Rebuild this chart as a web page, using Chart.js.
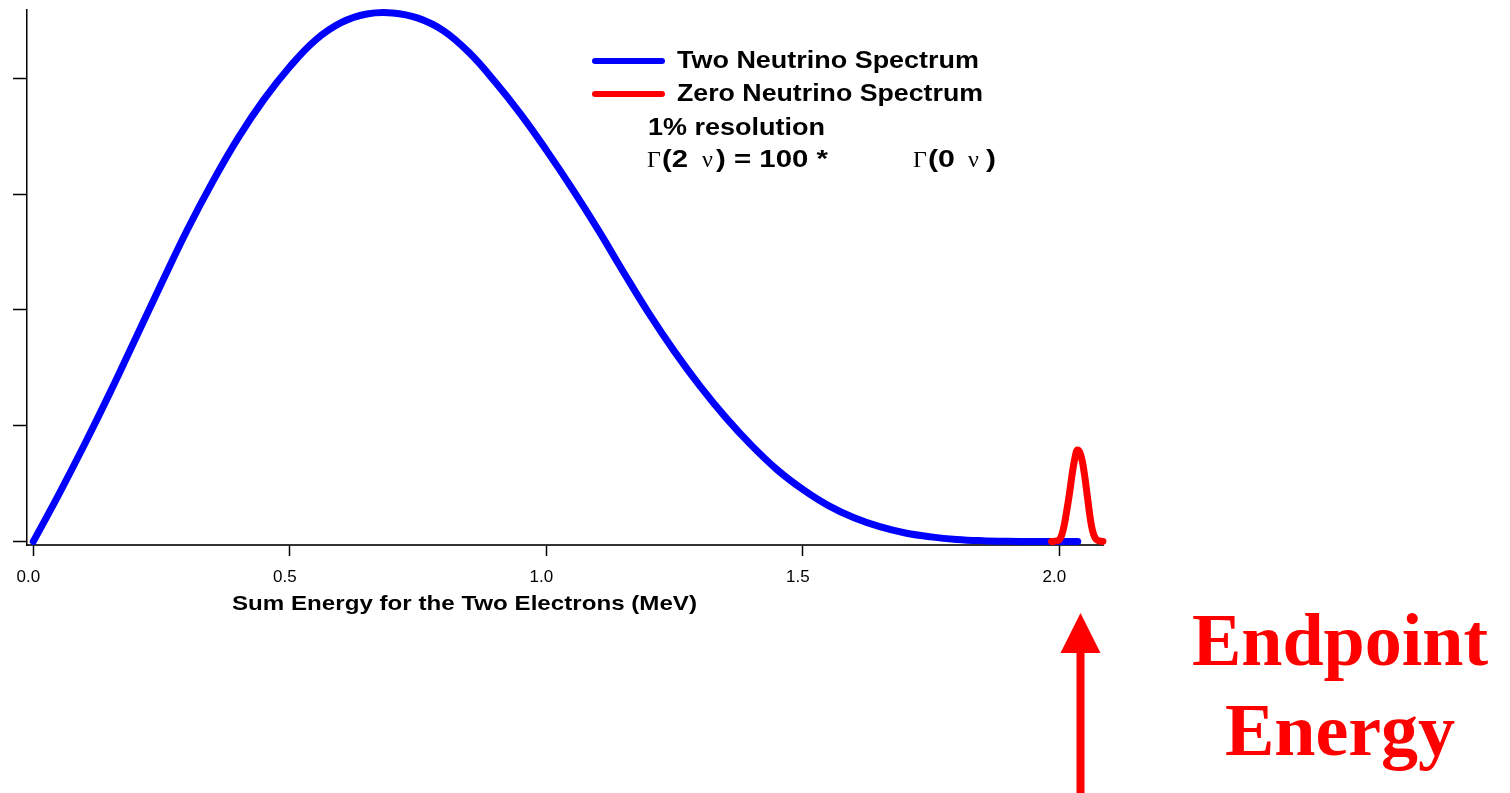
<!DOCTYPE html>
<html>
<head>
<meta charset="utf-8">
<script src="https://cdn.jsdelivr.net/npm/chart.js@4.4.1/dist/chart.umd.min.js"></script>
<style>
  html, body { margin: 0; padding: 0; background: #fff; }
  #chart { display: block; }
</style>
</head>
<body>
<canvas id="chart" width="1510" height="793"></canvas>
<script>
// two neutrino spectrum (MeV, arbitrary units)
const energies = [0.00, 0.05, 0.10, 0.15, 0.20, 0.25, 0.30, 0.35, 0.40, 0.45,
                  0.50, 0.55, 0.60, 0.65, 0.70, 0.75, 0.80, 0.85, 0.90, 0.95,
                  1.00, 1.05, 1.10, 1.15, 1.20, 1.25, 1.30, 1.35, 1.40, 1.45,
                  1.50, 1.55, 1.60, 1.65, 1.70, 1.75, 1.80, 1.85, 1.90, 1.95,
                  2.00, 2.036];
const twoNu = [0, 0.41, 0.84, 1.29, 1.76, 2.23, 2.69, 3.11, 3.49, 3.82,
               4.10, 4.33, 4.48, 4.555, 4.565, 4.52, 4.41, 4.22, 3.97, 3.69,
               3.38, 3.05, 2.70, 2.33, 1.97, 1.64, 1.34, 1.07, 0.83, 0.62,
               0.45, 0.31, 0.205, 0.128, 0.074, 0.04, 0.018, 0.007, 0.002, 0,
               0, 0];

// zero neutrino peak at the endpoint
const peakEnergies = [1.985, 1.995, 2.000, 2.005, 2.010, 2.015, 2.020, 2.025, 2.030,
                      2.035, 2.040, 2.045, 2.050, 2.055, 2.060, 2.065, 2.070, 2.075, 2.085];
const zeroNu = [0, 0.005, 0.015, 0.06, 0.15, 0.28, 0.42, 0.58, 0.71,
                0.79, 0.77, 0.69, 0.55, 0.38, 0.21, 0.09, 0.03, 0.01, 0];

const xTicks = [0, 0.5, 1.0, 1.5, 2.0];
const xTickLabels = ['0.0', '0.5', '1.0', '1.5', '2.0'];
const yTicks = [0, 1, 2, 3, 4];

function fitText(ctx, text, x, y, w, font) {
  ctx.save();
  ctx.font = font;
  ctx.textBaseline = 'alphabetic';
  ctx.textAlign = 'left';
  const m = ctx.measureText(text).width;
  ctx.translate(x, y);
  ctx.scale(w / m, 1);
  ctx.fillText(text, 0, 0);
  ctx.restore();
}

const notes = {
  id: 'notes',
  afterDraw(chart) {
    const ctx = chart.ctx;
    ctx.save();

    // legend lines
    ctx.lineCap = 'round';
    ctx.lineWidth = 6;
    ctx.strokeStyle = '#0000ff';
    ctx.beginPath(); ctx.moveTo(595, 61); ctx.lineTo(662, 61); ctx.stroke();
    ctx.strokeStyle = '#ff0000';
    ctx.beginPath(); ctx.moveTo(595, 94); ctx.lineTo(662, 94); ctx.stroke();

    ctx.fillStyle = '#000';
    const sans = 'bold 23px "Liberation Sans", Arial, sans-serif';
    const serif = '24px "Liberation Serif", "Times New Roman", serif';
    fitText(ctx, 'Two Neutrino Spectrum', 677, 68, 302, sans);
    fitText(ctx, 'Zero Neutrino Spectrum', 677, 101, 306, sans);
    fitText(ctx, '1% resolution', 648, 135, 177, sans);

    ctx.font = serif;
    ctx.fillText('\u0393', 647, 167);
    fitText(ctx, '(2', 662, 167, 26, sans);
    ctx.font = serif;
    ctx.fillText('\u03bd', 702, 167);
    fitText(ctx, ') = 100 *', 716, 167, 112, sans);
    ctx.font = serif;
    ctx.fillText('\u0393', 913, 167);
    fitText(ctx, '(0', 928, 167, 27, sans);
    ctx.font = serif;
    ctx.fillText('\u03bd', 968, 167);
    fitText(ctx, ')', 986, 167, 10, sans);

    // axis title
    fitText(ctx, 'Sum Energy for the Two Electrons (MeV)', 232, 610, 465,
            'bold 21px "Liberation Sans", Arial, sans-serif');

    // endpoint arrow
    ctx.fillStyle = '#ff0000';
    ctx.strokeStyle = '#ff0000';
    ctx.lineCap = 'butt';
    ctx.lineWidth = 8;
    ctx.beginPath(); ctx.moveTo(1080.5, 793); ctx.lineTo(1080.5, 650); ctx.stroke();
    ctx.beginPath();
    ctx.moveTo(1080.5, 613);
    ctx.lineTo(1060.5, 653);
    ctx.lineTo(1100.5, 653);
    ctx.closePath();
    ctx.fill();

    ctx.font = 'bold 74px "Liberation Serif", "Times New Roman", serif';
    ctx.textAlign = 'center';
    ctx.textBaseline = 'alphabetic';
    ctx.fillText('Endpoint', 1340, 665);
    ctx.fillText('Energy', 1340, 755);
    ctx.restore();
  }
};

const ctx = document.getElementById('chart').getContext('2d');
new Chart(ctx, {
  type: 'line',
  data: {
    datasets: [
      {
        label: 'Zero Neutrino Spectrum',
        data: peakEnergies.map((e, i) => ({ x: e, y: zeroNu[i] })),
        borderColor: '#ff0000',
        borderWidth: 7,
        pointRadius: 0,
        cubicInterpolationMode: 'monotone',
        borderCapStyle: 'round',
        borderJoinStyle: 'round',
        clip: false,
        order: 0
      },
      {
        label: 'Two Neutrino Spectrum',
        data: energies.map((e, i) => ({ x: e, y: twoNu[i] })),
        borderColor: '#0000ff',
        borderWidth: 7,
        pointRadius: 0,
        tension: 0.4,
        borderCapStyle: 'round',
        borderJoinStyle: 'round',
        clip: false,
        order: 1
      }
    ]
  },
  options: {
    responsive: false,
    devicePixelRatio: 1,
    animation: false,
    layout: { padding: { left: 13, right: 407, top: 10, bottom: 0 } },
    plugins: {
      legend: { display: false },
      tooltip: { enabled: false }
    },
    scales: {
      x: {
        type: 'linear',
        min: -0.0123,
        max: 2.0852,
        afterFit(scale) { scale.height = 248; },
        afterBuildTicks(scale) { scale.ticks = xTicks.map(v => ({ value: v })); },
        border: { display: true, color: '#333', width: 2 },
        grid: { drawOnChartArea: false, drawTicks: true, tickLength: 11, tickColor: '#000', tickWidth: 1.5 },
        ticks: {
          padding: 11,
          labelOffset: -5,
          color: '#000',
          font: { family: 'Liberation Sans', size: 17 },
          callback: (v, i) => xTickLabels[i]
        }
      },
      y: {
        type: 'linear',
        min: -0.03,
        max: 4.59,
        afterFit(scale) { scale.width = 14; },
        afterBuildTicks(scale) { scale.ticks = yTicks.map(v => ({ value: v })); },
        border: { display: true, color: '#000', width: 1.5 },
        grid: { drawOnChartArea: false, drawTicks: true, tickLength: 14, tickColor: '#000', tickWidth: 1.5 },
        ticks: { display: false }
      }
    }
  },
  plugins: [notes]
});
</script>
</body>
</html>
